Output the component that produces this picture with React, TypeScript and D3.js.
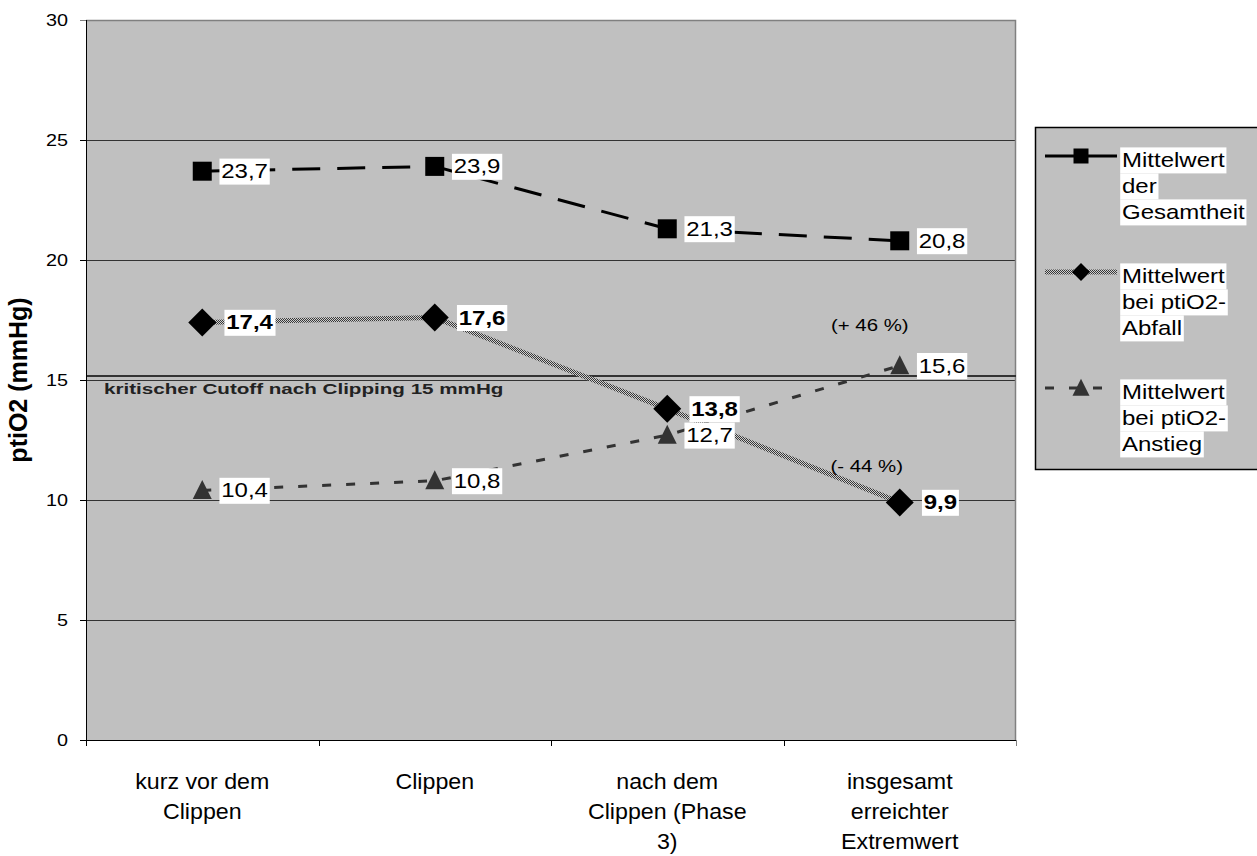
import React, { useEffect, useRef } from "react";
import * as d3 from "d3";

// Category labels (one entry per line of the wrapped axis label)
const categories: string[][] = [
  ["kurz vor dem", "Clippen"],
  ["Clippen"],
  ["nach dem", "Clippen (Phase", "3)"],
  ["insgesamt", "erreichter", "Extremwert"],
];

// Mean ptiO2 values (mmHg)
const gesamtheit = [23.7, 23.9, 21.3, 20.8];
const abfall = [17.4, 17.6, 13.8, 9.9];
const anstieg = [10.4, 10.8, 12.7, 15.6];

const yTicks = [0, 5, 10, 15, 20, 25, 30];
const cutoffValue = 15;
const cutoffText = "kritischer Cutoff nach Clipping 15 mmHg";

const legendLabels: string[][] = [
  ["Mittelwert", "der", "Gesamtheit"],
  ["Mittelwert", "bei ptiO2-", "Abfall"],
  ["Mittelwert", "bei ptiO2-", "Anstieg"],
];

const changeLabels = ["(+ 46 %)", "(- 44 %)"];

const FONT = "'Liberation Sans', Arial, sans-serif";

const fmt = (v: number) => v.toFixed(1).replace(".", ",");

export default function App() {
  const ref = useRef<SVGSVGElement>(null);

  useEffect(() => {
    const svg = d3.select(ref.current!);
    svg.selectAll("*").remove();

    const W = 1257;
    const H = 856;
    const left = 86,
      right = 1016,
      top = 20,
      bottom = 740;

    const x = d3
      .scaleBand<number>()
      .domain(categories.map((_, i) => i))
      .range([left, right]);
    const xc = (i: number) => (x(i) as number) + x.bandwidth() / 2;
    const y = d3.scaleLinear().domain([0, 30]).range([bottom, top]);

    svg.append("rect").attr("width", W).attr("height", H).attr("fill", "#fff");

    const defs = svg.append("defs");
    const pat = defs
      .append("pattern")
      .attr("id", "checker")
      .attr("patternUnits", "userSpaceOnUse")
      .attr("width", 2)
      .attr("height", 2);
    pat.append("rect").attr("width", 2).attr("height", 2).attr("fill", "#d0d0d0");
    pat.append("rect").attr("width", 1).attr("height", 1).attr("fill", "#363636");
    pat.append("rect").attr("x", 1).attr("y", 1).attr("width", 1).attr("height", 1).attr("fill", "#363636");

    // text helper: returns group + text; sx widens the glyphs horizontally
    const txt = (
      parent: d3.Selection<any, any, any, any>,
      tx: number,
      ty: number,
      s: string,
      size: number,
      opts: { weight?: string; anchor?: string; fill?: string; rotate?: number; sx?: number } = {}
    ) => {
      const sx = opts.sx ?? 1.2;
      const g = parent
        .append("g")
        .attr(
          "transform",
          `translate(${tx},${ty}) scale(${sx},1)` + (opts.rotate ? ` rotate(${opts.rotate})` : "")
        );
      const t = g
        .append("text")
        .attr("font-family", FONT)
        .attr("font-size", size)
        .attr("font-weight", opts.weight || "normal")
        .attr("text-anchor", opts.anchor || "start")
        .attr("fill", opts.fill || "#000")
        .text(s);
      return { g, t };
    };

    const boxed = (
      parent: d3.Selection<any, any, any, any>,
      tx: number,
      ty: number,
      s: string,
      size: number,
      weight = "normal"
    ) => {
      const { g, t } = txt(parent, tx, ty, s, size, { weight });
      const bb = (t.node() as SVGTextElement).getBBox();
      g.insert("rect", "text")
        .attr("x", bb.x - 1.5)
        .attr("y", -size * 0.98)
        .attr("width", bb.width + 3)
        .attr("height", size * 1.3)
        .attr("fill", "#fff");
    };

    // plot area
    svg
      .append("rect")
      .attr("x", left)
      .attr("y", top)
      .attr("width", right - left)
      .attr("height", bottom - top)
      .attr("fill", "#c0c0c0");

    // gridlines
    svg
      .append("g")
      .selectAll("line")
      .data(yTicks.filter((t) => t > 0 && t < 30))
      .join("line")
      .attr("x1", left)
      .attr("x2", right)
      .attr("y1", (d) => Math.round(y(d)) + 0.5)
      .attr("y2", (d) => Math.round(y(d)) + 0.5)
      .attr("stroke", "#333")
      .attr("stroke-width", 1);

    // top / right frame
    svg
      .append("path")
      .attr("d", `M${left},${top + 0.5}H${right - 0.5}V${bottom}`)
      .attr("fill", "none")
      .attr("stroke", "#808080")
      .attr("stroke-width", 1.5);

    // critical cutoff
    svg
      .append("line")
      .attr("x1", left)
      .attr("x2", right)
      .attr("y1", y(cutoffValue) - 4)
      .attr("y2", y(cutoffValue) - 4)
      .attr("stroke", "#333")
      .attr("stroke-width", 2);
    txt(svg, left + 18, y(cutoffValue) + 14, cutoffText, 15.5, { weight: "bold", fill: "#222", sx: 1.33 });

    // axes
    svg
      .append("line")
      .attr("x1", left + 0.5)
      .attr("x2", left + 0.5)
      .attr("y1", top)
      .attr("y2", bottom)
      .attr("stroke", "#000");
    svg
      .append("line")
      .attr("x1", left - 6)
      .attr("x2", right)
      .attr("y1", bottom + 0.5)
      .attr("y2", bottom + 0.5)
      .attr("stroke", "#000");

    yTicks.forEach((t) => {
      svg
        .append("line")
        .attr("x1", left - 6)
        .attr("x2", left)
        .attr("y1", Math.round(y(t)) + 0.5)
        .attr("y2", Math.round(y(t)) + 0.5)
        .attr("stroke", t === 30 ? "#808080" : "#000");
      txt(svg, left - 18, y(t) + 6, String(t), 16.5, { anchor: "end" });
    });

    const tickXs = categories.map((_, i) => x(i) as number).concat([right]);
    tickXs.forEach((tx) => {
      svg
        .append("line")
        .attr("x1", Math.round(tx) + 0.5)
        .attr("x2", Math.round(tx) + 0.5)
        .attr("y1", bottom)
        .attr("y2", bottom + 6)
        .attr("stroke", tx === right ? "#808080" : "#000");
    });

    categories.forEach((lines, i) => {
      lines.forEach((ln, k) => {
        txt(svg, xc(i), bottom + 49 + k * 30, ln, 21.5, { anchor: "middle", sx: 1.08 });
      });
    });

    txt(svg, 27, y(15), "ptiO2 (mmHg)", 25, { weight: "bold", anchor: "middle", rotate: -90, sx: 1.0 });

    // series
    const line = d3
      .line<number>()
      .x((_, i) => xc(i))
      .y((d) => y(d));

    svg
      .append("path")
      .attr("d", line(gesamtheit))
      .attr("fill", "none")
      .attr("stroke", "#000")
      .attr("stroke-width", 3)
      .attr("stroke-dasharray", "28,17");
    svg
      .append("path")
      .attr("d", line(abfall))
      .attr("fill", "none")
      .attr("stroke", "url(#checker)")
      .attr("stroke-width", 5);
    svg
      .append("path")
      .attr("d", line(anstieg))
      .attr("fill", "none")
      .attr("stroke", "#333")
      .attr("stroke-width", 3)
      .attr("stroke-dasharray", "9,15");

    const square = (g: any, cx: number, cy: number, s: number) =>
      g.append("rect").attr("x", cx - s / 2).attr("y", cy - s / 2).attr("width", s).attr("height", s).attr("fill", "#000");
    const diamond = (g: any, cx: number, cy: number, r: number) =>
      g
        .append("path")
        .attr("d", `M${cx},${cy - r}L${cx + r},${cy}L${cx},${cy + r}L${cx - r},${cy}Z`)
        .attr("fill", "#000");
    const triangle = (g: any, cx: number, cy: number, s: number) =>
      g
        .append("path")
        .attr("d", `M${cx},${cy - s * 0.55}L${cx + s / 2},${cy + s * 0.45}L${cx - s / 2},${cy + s * 0.45}Z`)
        .attr("fill", "#333");

    gesamtheit.forEach((v, i) => square(svg, xc(i), y(v), 19));
    abfall.forEach((v, i) => diamond(svg, xc(i), y(v), 14));
    anstieg.forEach((v, i) => triangle(svg, xc(i), y(v), 19));

    // value labels
    gesamtheit.forEach((v, i) => boxed(svg, xc(i) + 19, y(v) + 7, fmt(v), 20));
    abfall.forEach((v, i) => boxed(svg, xc(i) + 24, y(v) + 7, fmt(v), 20, "bold"));
    anstieg.forEach((v, i) => boxed(svg, xc(i) + 19, y(v) + 7, fmt(v), 20));

    // relative change annotations
    txt(svg, xc(3) - 30, y(anstieg[3]) - 35, changeLabels[0], 17, { anchor: "middle" });
    txt(svg, xc(3) - 33, y(abfall[3]) - 30, changeLabels[1], 17, { anchor: "middle" });

    // legend
    const lg = svg.append("g");
    lg.append("rect")
      .attr("x", 1035.5)
      .attr("y", 127.5)
      .attr("width", 260)
      .attr("height", 342)
      .attr("fill", "#c0c0c0")
      .attr("stroke", "#000")
      .attr("stroke-width", 1.5);

    const ly = [156, 272, 388];
    const lx1 = 1045,
      lx2 = 1117,
      lm = 1081;
    lg.append("line").attr("x1", lx1).attr("x2", lx2).attr("y1", ly[0]).attr("y2", ly[0]).attr("stroke", "#000").attr("stroke-width", 3);
    square(lg, lm, ly[0], 15);
    lg.append("line").attr("x1", lx1).attr("x2", lx2).attr("y1", ly[1]).attr("y2", ly[1]).attr("stroke", "url(#checker)").attr("stroke-width", 5);
    diamond(lg, lm, ly[1], 9);
    lg.append("line")
      .attr("x1", lx1)
      .attr("x2", lx2)
      .attr("y1", ly[2])
      .attr("y2", ly[2])
      .attr("stroke", "#333")
      .attr("stroke-width", 3)
      .attr("stroke-dasharray", "9,15");
    triangle(lg, lm, ly[2], 17);

    legendLabels.forEach((lines, k) => {
      lines.forEach((ln, j) => boxed(lg, 1122, ly[k] + 11 + j * 26, ln, 20));
    });
  }, []);

  return (
    <svg
      ref={ref}
      width={1257}
      height={856}
      style={{ position: "absolute", left: 0, top: 0, display: "block" }}
    />
  );
}
